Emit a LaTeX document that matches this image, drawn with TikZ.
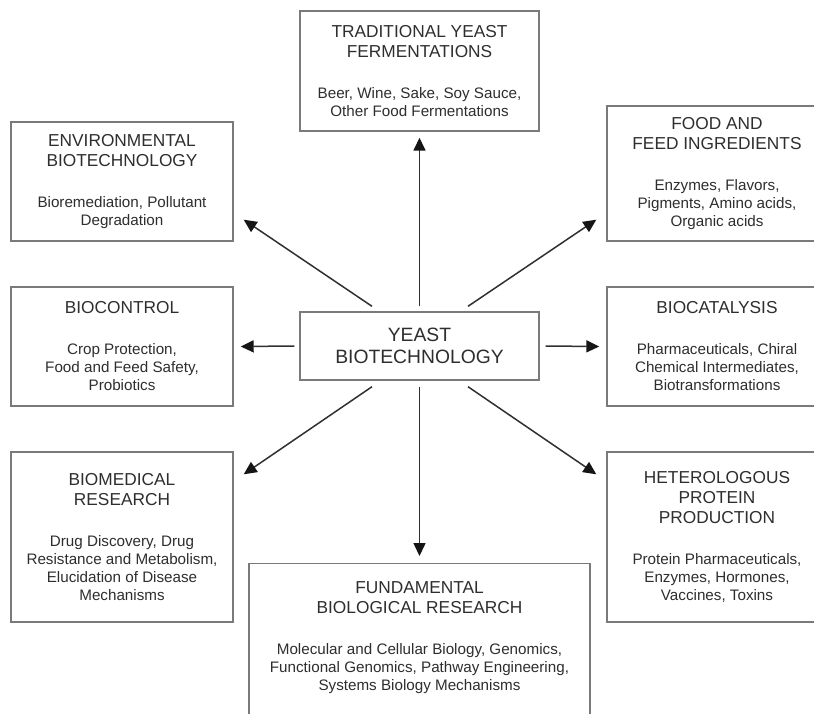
\documentclass[tikz,border=0pt]{standalone}
\usepackage{fontspec}
\setmainfont{Liberation Sans}
\usetikzlibrary{arrows.meta}
\definecolor{boxgray}{HTML}{7A7A7A}
\definecolor{txtgray}{HTML}{2E2E2E}
\definecolor{arrgray}{HTML}{303030}
\definecolor{headgray}{HTML}{151515}
\newcommand\titlef{\fontsize{17.3}{20}\selectfont}
\newcommand\bodyf{\fontsize{15.2}{18}\selectfont}
\newcommand\yeastf{\fontsize{19.3}{22}\selectfont}
\begin{document}
\begin{tikzpicture}[x=1pt,y=1pt,
  box/.style={draw=boxgray, line width=1.4pt, inner sep=0pt, align=center, text=txtgray, font=\bodyf},
  lbox/.style={box, minimum width=222pt},
  rbox/.style={box, minimum width=220pt},
  txt/.style={inner sep=0pt, align=center, text=txtgray, font=\bodyf},
  arr/.style={draw=arrgray, line width=1.5pt, -{Triangle[length=13pt,width=12pt,color=headgray]}}]
\path[use as bounding box, clip] (0,0) rectangle (814,-713);
\fill[white] (0,0) rectangle (814,-713);

\node[box, minimum width=239pt, minimum height=120pt] (trad) at (419.5,-71)
  {{\titlef TRADITIONAL YEAST}\\[2pt]{\titlef FERMENTATIONS}\\[23pt]Beer, Wine, Sake, Soy Sauce,\\Other Food Fermentations};
\node[lbox, minimum height=119pt] (env) at (122,-181.5)
  {{\titlef ENVIRONMENTAL}\\[2pt]{\titlef BIOTECHNOLOGY}\\[23pt]Bioremediation, Pollutant\\Degradation};
\node[lbox, minimum height=119pt] (bioc) at (122,-346.5)
  {{\titlef BIOCONTROL}\\[23pt]Crop Protection,\\Food and Feed Safety,\\Probiotics};
\node[lbox, minimum height=170pt] (biomed) at (122,-537)
  {{\titlef BIOMEDICAL}\\[2pt]{\titlef RESEARCH}\\[23pt]Drug Discovery, Drug\\Resistance and Metabolism,\\Elucidation of Disease\\Mechanisms};
\node[rbox, minimum height=135pt] (food) at (717,-173.5)
  {{\titlef FOOD AND}\\[2pt]{\titlef FEED INGREDIENTS}\\[23pt]Enzymes, Flavors,\\Pigments, Amino acids,\\Organic acids};
\node[rbox, minimum height=119pt] (biocat) at (717,-346.5)
  {{\titlef BIOCATALYSIS}\\[23pt]Pharmaceuticals, Chiral\\Chemical Intermediates,\\Biotransformations};
\node[rbox, minimum height=170pt] (hetero) at (717,-537)
  {{\titlef HETEROLOGOUS}\\[2pt]{\titlef PROTEIN}\\[2pt]{\titlef PRODUCTION}\\[23pt]Protein Pharmaceuticals,\\Enzymes, Hormones,\\Vaccines, Toxins};
\node[box, minimum width=239pt, minimum height=68pt, font=\yeastf] (yeast) at (419.5,-346)
  {YEAST\\BIOTECHNOLOGY};
\node[box, minimum width=341pt, minimum height=200pt, anchor=north] (fund) at (419.5,-563) {};
\node[txt] (fundtxt) at (419.5,-638)
  {{\titlef FUNDAMENTAL}\\[2pt]{\titlef BIOLOGICAL RESEARCH}\\[23pt]Molecular and Cellular Biology, Genomics,\\Functional Genomics, Pathway Engineering,\\Systems Biology Mechanisms};

\draw[arr] ([yshift=5pt]yeast.north) -- ([yshift=-6pt]trad.south);
\draw[arr] ([yshift=-6pt]yeast.south) -- ([yshift=7pt]fund.north);
\draw[arr] ([xshift=-5pt]yeast.west) -- ([xshift=7pt]bioc.east);
\draw[arr] ([xshift=6pt]yeast.east) -- ([xshift=-7pt]biocat.west);
\draw[arr] ([xshift=-47.5pt,yshift=5pt]yeast.north) -- ([xshift=10pt,yshift=22pt]env.south east);
\draw[arr] ([xshift=48.5pt,yshift=5pt]yeast.north) -- ([xshift=-10pt,yshift=22pt]food.south west);
\draw[arr] ([xshift=-47.5pt,yshift=-6pt]yeast.south) -- ([xshift=10pt,yshift=-23pt]biomed.north east);
\draw[arr] ([xshift=48.5pt,yshift=-6pt]yeast.south) -- ([xshift=-10pt,yshift=-23pt]hetero.north west);
\end{tikzpicture}
\end{document}
